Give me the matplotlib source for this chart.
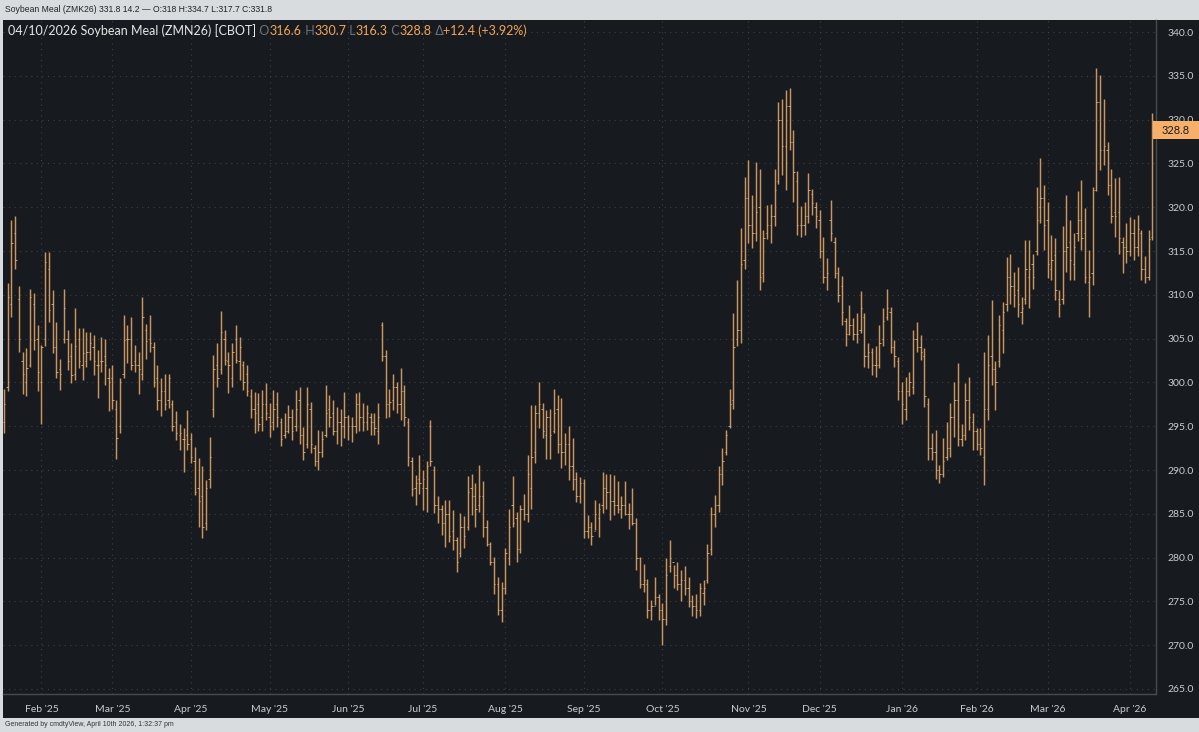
import matplotlib
matplotlib.use("Agg")
import matplotlib.pyplot as plt
import matplotlib.transforms as mtransforms
from matplotlib.patches import Rectangle
import numpy as np
import pandas as pd

# trading calendar (CBOT closed on these days)
holidays = ["2025-01-20", "2025-02-17", "2025-04-18", "2025-05-26", "2025-06-19",
            "2025-07-04", "2025-09-01", "2025-11-27", "2025-12-25", "2026-01-01",
            "2026-01-19", "2026-02-16", "2026-04-03"]
dates = pd.bdate_range("2025-01-17", "2026-04-10", freq="C", holidays=holidays)

highs = [
    299.3, 311.3, 318.5, 319.0, 311.0, 303.5, 303.9, 310.7, 310.2, 306.5,
    304.3, 314.9, 314.9, 310.5, 306.9, 302.7, 310.7, 306.0, 304.5, 308.5,
    306.2, 306.2, 305.8, 305.8, 305.4, 303.7, 305.2, 305.0, 301.6, 302.0,
    298.0, 300.5, 307.7, 306.5, 307.5, 304.3, 303.5, 309.8, 306.7, 307.7,
    304.6, 302.0, 300.5, 301.0, 301.0, 298.0, 296.7, 295.3, 294.8, 296.9,
    294.2, 292.6, 291.4, 290.4, 288.9, 293.8, 303.1, 304.5, 308.1, 306.0,
    303.5, 304.5, 306.6, 305.2, 302.4, 302.0, 299.3, 298.9, 298.8, 299.1,
    299.9, 297.6, 299.1, 298.9, 295.9, 296.5, 297.4, 297.0, 299.1, 299.5,
    294.9, 299.5, 297.8, 292.9, 294.6, 294.4, 299.7, 298.6, 298.0, 297.2,
    297.0, 298.9, 296.3, 296.1, 298.8, 298.9, 297.6, 297.4, 296.5, 296.5,
    297.6, 306.9, 303.7, 299.3, 301.0, 300.1, 301.6, 299.7, 295.9, 291.5,
    289.4, 291.7, 290.0, 291.0, 295.7, 290.4, 287.0, 286.0, 286.6, 286.6,
    285.4, 282.4, 285.1, 284.7, 289.3, 289.6, 288.5, 290.6, 288.7, 284.3,
    281.8, 280.1, 277.8, 277.2, 281.1, 285.6, 289.3, 285.2, 286.0, 287.3,
    291.7, 297.4, 297.4, 300.1, 297.6, 296.9, 297.0, 299.3, 298.6, 298.2,
    294.2, 295.0, 293.7, 289.8, 289.2, 289.0, 284.9, 284.1, 286.6, 286.2,
    289.8, 289.6, 289.6, 289.4, 288.7, 287.0, 288.7, 286.2, 287.9, 284.5,
    280.1, 279.3, 277.6, 275.2, 277.8, 275.9, 274.8, 279.9, 282.0, 279.2,
    279.5, 278.6, 279.0, 277.8, 275.7, 275.9, 277.1, 277.4, 281.6, 285.8,
    287.1, 290.4, 292.5, 294.6, 299.3, 307.9, 311.7, 317.6, 323.5, 325.4,
    321.4, 325.2, 324.4, 317.4, 320.2, 320.4, 324.4, 332.0, 332.4, 333.4,
    333.6, 328.8, 324.1, 320.1, 320.6, 323.9, 322.1, 320.6, 319.7, 316.6,
    314.2, 320.8, 316.6, 313.2, 312.1, 307.3, 308.8, 307.4, 307.9, 310.4,
    307.9, 304.5, 303.9, 304.1, 306.5, 308.5, 310.7, 308.6, 304.8, 302.9,
    300.1, 300.6, 301.2, 306.0, 306.9, 305.4, 303.9, 298.2, 294.2, 294.6,
    290.6, 293.6, 295.5, 297.6, 300.1, 302.2, 295.3, 299.9, 300.6, 296.5,
    294.8, 294.8, 303.5, 305.4, 309.4, 302.4, 307.7, 309.2, 314.3, 314.7,
    312.6, 313.2, 309.8, 316.3, 316.3, 314.7, 322.3, 325.6, 322.5, 320.6,
    316.8, 316.5, 310.6, 317.8, 321.4, 318.5, 317.0, 321.8, 323.1, 319.9,
    315.1, 322.3, 335.9, 335.1, 332.4, 327.5, 324.4, 323.3, 323.5, 316.6,
    318.2, 318.9, 318.7, 319.1, 317.4, 314.4, 317.4, 330.7]

lows = [
    294.2, 299.0, 307.5, 313.0, 303.5, 298.7, 298.5, 301.8, 303.7, 299.0,
    295.3, 304.1, 306.9, 303.3, 300.5, 299.1, 304.5, 301.4, 299.9, 300.3,
    301.6, 300.3, 301.8, 302.6, 300.8, 298.2, 301.2, 299.7, 296.7, 297.0,
    291.3, 294.2, 300.5, 302.2, 301.4, 301.2, 298.7, 300.3, 302.7, 303.5,
    299.5, 296.9, 296.2, 296.9, 297.1, 294.4, 293.4, 292.3, 289.8, 292.3,
    290.8, 287.1, 283.5, 282.2, 283.2, 287.9, 296.1, 299.5, 301.0, 302.0,
    298.8, 299.5, 302.2, 300.3, 299.1, 298.4, 295.9, 294.2, 294.4, 294.4,
    295.7, 293.8, 294.6, 294.9, 292.7, 293.6, 294.2, 293.4, 294.4, 293.0,
    291.1, 292.5, 291.9, 290.4, 290.0, 291.5, 293.8, 294.9, 294.0, 293.0,
    292.7, 293.6, 293.4, 293.2, 294.2, 294.4, 294.4, 294.6, 294.0, 294.0,
    293.0, 302.4, 295.9, 296.1, 296.8, 296.5, 295.7, 295.0, 290.4, 287.0,
    286.0, 287.3, 285.4, 285.2, 290.4, 285.1, 283.9, 282.6, 281.2, 281.8,
    280.9, 278.4, 280.1, 281.1, 283.1, 284.9, 283.5, 285.2, 282.4, 281.3,
    279.2, 275.9, 273.4, 272.7, 275.9, 279.2, 283.5, 279.5, 280.5, 284.3,
    284.1, 285.6, 290.8, 294.8, 293.6, 291.3, 291.3, 294.2, 291.9, 290.2,
    290.6, 288.9, 287.7, 286.4, 286.2, 282.2, 282.2, 281.4, 283.1, 282.4,
    285.1, 285.6, 284.3, 284.9, 285.1, 284.5, 284.9, 283.3, 283.7, 278.6,
    276.5, 276.1, 273.1, 272.9, 274.6, 272.9, 270.0, 272.3, 278.4, 276.5,
    276.3, 275.0, 275.7, 274.4, 273.3, 273.1, 273.3, 274.6, 277.1, 280.3,
    283.5, 285.2, 288.3, 291.7, 294.8, 297.0, 304.1, 304.5, 313.0, 315.9,
    315.3, 316.1, 310.5, 311.5, 316.4, 315.9, 317.8, 322.7, 323.7, 322.0,
    326.5, 320.6, 316.8, 316.6, 316.8, 318.2, 319.1, 317.6, 314.2, 311.3,
    310.5, 316.1, 311.9, 309.2, 306.5, 304.1, 305.4, 304.8, 304.5, 305.6,
    301.8, 301.6, 300.8, 300.6, 301.6, 304.1, 307.1, 303.3, 301.8, 298.0,
    295.3, 295.7, 298.4, 298.7, 303.5, 302.6, 297.2, 291.1, 291.1, 289.0,
    288.5, 289.2, 291.1, 291.5, 293.8, 292.7, 292.7, 293.4, 294.6, 292.3,
    292.3, 291.7, 288.3, 295.7, 299.7, 296.8, 301.8, 303.3, 308.1, 309.0,
    308.6, 307.5, 306.7, 309.0, 308.5, 310.7, 314.5, 318.2, 315.1, 311.9,
    311.7, 309.4, 307.5, 309.0, 312.6, 311.7, 311.7, 316.1, 315.1, 311.3,
    307.5, 311.1, 321.8, 324.3, 324.8, 321.4, 318.2, 316.6, 314.7, 312.5,
    313.6, 314.4, 314.0, 314.4, 311.7, 311.3, 311.7, 316.3]

opens = [
    295.5, 299.5, 309.0, 317.0, 309.5, 302.5, 300.0, 302.0, 309.0, 305.0,
    300.0, 305.0, 313.0, 309.0, 304.0, 301.5, 305.0, 305.0, 303.0, 301.0,
    305.0, 302.0, 302.5, 303.5, 304.0, 302.0, 302.5, 303.0, 300.5, 300.5,
    297.0, 295.0, 301.0, 305.0, 305.0, 302.5, 302.0, 301.0, 306.0, 305.0,
    304.0, 300.5, 298.0, 299.0, 298.0, 297.5, 295.5, 294.0, 293.5, 294.0,
    293.5, 291.0, 288.0, 287.0, 284.0, 289.0, 297.0, 302.0, 301.5, 305.0,
    302.5, 300.5, 305.0, 302.5, 302.0, 301.0, 298.5, 297.0, 297.5, 296.0,
    297.5, 296.0, 295.5, 297.5, 295.5, 294.0, 294.5, 296.0, 295.0, 298.0,
    294.0, 293.0, 297.0, 292.5, 291.0, 292.0, 294.0, 297.0, 296.5, 294.5,
    295.5, 295.0, 296.0, 295.0, 295.0, 297.5, 296.0, 295.5, 296.0, 295.5,
    294.5, 306.5, 303.0, 297.5, 298.0, 299.5, 297.5, 299.0, 295.5, 291.0,
    288.0, 289.0, 288.0, 288.0, 295.0, 290.0, 286.0, 285.5, 284.0, 285.0,
    283.0, 282.0, 280.5, 283.5, 283.5, 288.0, 287.0, 286.0, 287.0, 283.5,
    281.5, 279.5, 277.0, 274.0, 276.5, 280.0, 286.0, 284.5, 281.0, 285.5,
    285.0, 288.0, 292.0, 296.5, 297.0, 294.0, 296.0, 294.5, 297.0, 293.0,
    292.0, 293.0, 290.5, 289.0, 287.0, 288.5, 283.0, 283.5, 283.0, 284.5,
    286.0, 288.0, 287.5, 286.5, 286.0, 285.5, 286.0, 285.0, 285.0, 284.0,
    280.0, 277.0, 277.0, 274.0, 274.5, 275.5, 274.0, 273.0, 279.0, 279.5,
    278.0, 277.0, 277.5, 276.5, 275.0, 274.5, 274.0, 276.0, 277.5, 281.0,
    285.0, 286.0, 289.5, 292.0, 295.0, 298.0, 305.0, 306.0, 314.0, 321.0,
    318.0, 317.0, 320.0, 312.5, 317.0, 318.0, 319.0, 323.0, 330.0, 327.0,
    331.5, 327.5, 323.0, 318.0, 318.0, 319.0, 321.5, 320.0, 318.5, 315.0,
    312.0, 318.5, 316.0, 312.5, 311.0, 307.0, 305.5, 306.5, 305.5, 306.0,
    307.5, 303.0, 303.5, 302.0, 302.0, 305.0, 307.5, 308.0, 304.0, 302.5,
    299.0, 297.0, 299.0, 299.5, 305.0, 304.0, 303.0, 297.5, 292.5, 292.0,
    290.0, 289.5, 291.5, 292.5, 296.0, 298.0, 293.5, 294.0, 298.0, 295.5,
    294.5, 293.0, 291.5, 297.0, 303.0, 301.5, 302.5, 306.0, 309.0, 312.0,
    311.0, 310.5, 308.0, 309.5, 312.0, 313.5, 315.0, 320.0, 321.0, 318.5,
    313.0, 314.5, 309.5, 309.5, 315.0, 316.0, 313.5, 317.0, 318.5, 317.0,
    311.5, 312.5, 322.0, 332.0, 326.5, 326.5, 322.5, 319.5, 319.5, 316.0,
    315.5, 315.0, 317.0, 315.5, 317.0, 313.0, 312.0, 316.6]

closes = [
    297.5, 309.8, 315.9, 314.0, 305.0, 301.0, 301.6, 309.8, 304.8, 301.2,
    304.0, 313.8, 308.3, 304.0, 301.2, 301.0, 308.5, 302.4, 300.8, 304.1,
    302.5, 303.4, 303.5, 304.5, 302.5, 302.0, 302.5, 302.0, 300.0, 298.0,
    293.6, 300.0, 304.8, 305.0, 302.0, 302.0, 301.5, 307.5, 304.7, 304.5,
    300.0, 298.0, 299.0, 297.5, 300.5, 295.0, 294.2, 294.2, 293.5, 293.0,
    291.5, 287.5, 286.5, 283.5, 288.0, 291.5, 301.5, 300.5, 305.8, 302.6,
    302.0, 303.5, 302.6, 304.0, 300.0, 299.0, 297.0, 296.5, 295.2, 297.5,
    296.5, 295.0, 297.0, 296.0, 293.5, 294.5, 296.0, 294.5, 297.0, 294.0,
    292.0, 297.5, 293.0, 291.0, 292.0, 293.5, 296.5, 296.0, 294.5, 295.5,
    295.0, 296.0, 295.0, 295.0, 297.5, 296.0, 295.5, 296.5, 295.5, 294.8,
    296.0, 303.0, 297.5, 297.8, 299.5, 297.5, 299.0, 296.0, 291.5, 287.8,
    288.5, 288.5, 289.0, 290.5, 291.0, 286.0, 285.5, 284.0, 285.0, 282.5,
    282.0, 279.5, 283.5, 282.5, 287.5, 287.0, 285.5, 287.0, 283.5, 281.5,
    279.5, 277.0, 274.0, 276.5, 280.5, 283.5, 284.0, 281.0, 285.5, 285.0,
    289.5, 291.5, 296.5, 297.5, 294.5, 296.0, 294.0, 296.5, 293.0, 292.0,
    293.0, 290.5, 289.0, 287.0, 288.5, 283.0, 283.5, 282.5, 285.0, 285.5,
    288.0, 287.5, 286.5, 286.0, 285.5, 286.0, 285.0, 285.0, 284.0, 280.0,
    277.0, 277.5, 274.0, 274.5, 275.5, 274.0, 273.0, 278.0, 280.0, 278.0,
    277.0, 277.5, 276.5, 275.0, 274.5, 274.0, 276.5, 276.5, 280.5, 285.0,
    286.0, 289.5, 291.0, 294.0, 297.5, 304.0, 306.0, 313.5, 321.0, 318.0,
    317.0, 319.5, 312.0, 316.5, 318.0, 319.0, 322.0, 330.0, 327.0, 331.5,
    327.5, 324.0, 318.0, 318.0, 319.0, 322.0, 320.5, 319.0, 315.0, 312.0,
    312.5, 317.0, 312.5, 310.0, 308.0, 305.5, 306.5, 305.5, 305.5, 308.5,
    303.0, 303.5, 302.0, 302.0, 304.5, 307.0, 308.5, 304.0, 303.0, 299.0,
    297.5, 299.0, 300.0, 305.0, 304.0, 303.5, 298.5, 292.5, 292.0, 290.0,
    289.5, 291.0, 292.5, 296.0, 298.0, 293.5, 294.0, 298.0, 296.0, 294.5,
    293.0, 292.5, 297.0, 302.0, 301.5, 300.0, 306.5, 308.0, 312.0, 311.0,
    310.0, 309.0, 308.5, 313.0, 313.0, 312.0, 318.5, 321.0, 318.0, 313.5,
    314.0, 310.5, 309.0, 315.0, 315.5, 314.0, 315.5, 318.5, 316.5, 312.0,
    312.0, 322.0, 332.0, 326.5, 327.0, 322.5, 319.0, 319.0, 316.5, 315.5,
    315.0, 317.0, 315.5, 317.5, 313.0, 312.0, 316.4, 328.8]

y_ticks = np.arange(265, 341, 5)
last_close = 328.8
header_parts = [(" O", "grey"), ("316.6", "val"), (" H", "grey"), ("330.7", "val"),
                (" L", "grey"), ("316.3", "val"), (" C", "grey"), ("328.8", "val"),
                (" \u0394", "grey"), ("+12.4 (+3.92%)", "val")]

W, H = 1199, 732
outer_bg = "#d9dcdf"
panel_bg = "#171a1e"
grid_c = "#3b4046"
bar_c = "#c99660"
tick_c = "#dcb98e"
label_c = "#c9cdd2"
orange = "#f2a65a"
grey = "#6e737a"
fam = ["Lato", "DejaVu Sans"]

fig = plt.figure(figsize=(W / 100, H / 100), dpi=100, facecolor=outer_bg)
fig.add_artist(Rectangle((3 / W, 1 - 718 / H), 1 - 3 / W, (718 - 20) / H,
                         transform=fig.transFigure, facecolor=panel_bg,
                         edgecolor="none", zorder=0))

ax = fig.add_axes([3 / W, 1 - 694 / H, (1156 - 3) / W, (694 - 20) / H])
ax.set_facecolor(panel_bg)

x = np.arange(len(dates))
ax.vlines(x, lows, highs, color=bar_c, lw=1.05, zorder=3)
ax.hlines(opens, x - 0.35, x, color=tick_c, lw=0.6, zorder=4)
ax.hlines(closes, x, x + 0.35, color=tick_c, lw=0.6, zorder=4)

ax.set_xlim((3 - 4) / 3.741, (1156 - 4) / 3.741)
ax.set_ylim(265 - 5 / 8.76, 340 + 12 / 8.76)

# month ticks at the first trading day of each month
pos = pd.Series(x, index=dates)
first_days = pos.groupby([dates.year, dates.month]).first().values[1:]
ax.set_xticks(first_days)
ax.set_xticklabels([dates[i].strftime("%b '%y") for i in first_days])
ax.set_yticks(y_ticks)
ax.set_yticklabels([f"{v:.1f}" for v in y_ticks])
ax.yaxis.tick_right()
ax.tick_params(axis="both", length=0, colors=label_c, labelsize=7.5)
ax.tick_params(axis="y", pad=8)
ax.tick_params(axis="x", pad=8)
for lab in ax.get_xticklabels() + ax.get_yticklabels():
    lab.set_family(fam)
ax.grid(True, color=grid_c, linestyle=(0, (1, 4)), lw=0.8)
ax.set_axisbelow(True)
for s in ["left", "top"]:
    ax.spines[s].set_visible(False)
for s in ["right", "bottom"]:
    ax.spines[s].set_color("#474c53")
    ax.spines[s].set_linewidth(1.0)

# last price tag
tr = mtransforms.blended_transform_factory(fig.transFigure, ax.transData)
ax.add_patch(Rectangle((1153 / W, last_close - 9 / 8.76), 46 / W, 18 / 8.76,
                       transform=tr, facecolor="#f6b06a", edgecolor="none",
                       clip_on=False, zorder=6))
ax.text(1176 / W, last_close, f"{last_close:.1f}", transform=tr, ha="center",
        va="center", fontsize=8, color="#1b1b1b", family=fam,
        zorder=7, clip_on=False)

# header inside the chart
t = fig.text(8 / W, 1 - 31 / H, "04/10/2026 Soybean Meal (ZMN26) [CBOT]",
             color="#e6e6e6", fontsize=9, family=fam, va="center", ha="left")
for txt, kind in header_parts:
    t = ax.annotate(txt, xy=(1, 0), xycoords=t, va="bottom", ha="left",
                    color=grey if kind == "grey" else orange,
                    fontsize=9, family=fam, annotation_clip=False)

fig.text(5 / W, 1 - 9 / H,
         "Soybean Meal (ZMK26) 331.8 14.2 \u2014 O:318 H:334.7 L:317.7 C:331.8",
         color="#222222", fontsize=6.2, family=["Liberation Sans", "DejaVu Sans"],
         va="center", ha="left")
fig.text(5 / W, 1 - 725 / H, "Generated by cmdtyView, April 10th 2026, 1:32:37 pm",
         color="#333333", fontsize=5.0, family=["Liberation Sans", "DejaVu Sans"],
         va="center", ha="left")

fig.savefig("out.png", dpi=100, facecolor=outer_bg)
